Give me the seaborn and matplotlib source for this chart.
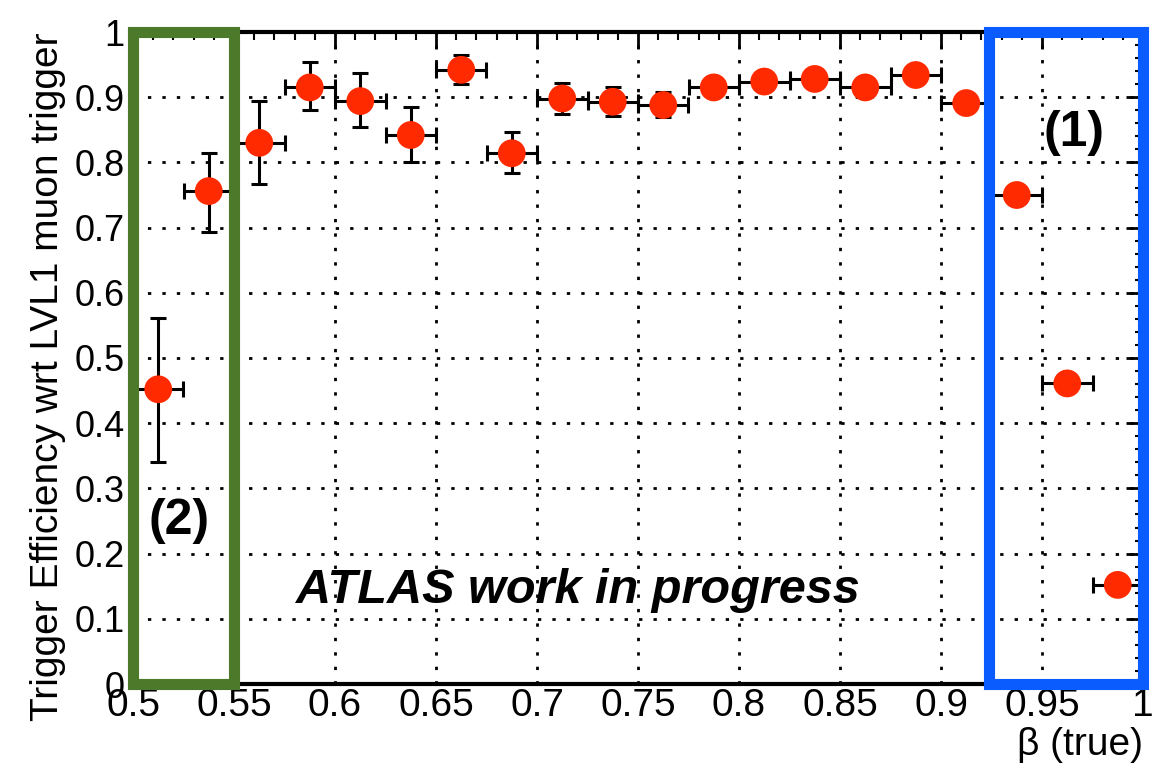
import numpy as np
import pandas as pd
import matplotlib
matplotlib.use("Agg")
import matplotlib.pyplot as plt
from matplotlib.ticker import MultipleLocator, FuncFormatter
from matplotlib.patches import Rectangle
import seaborn as sns

beta = [0.5125, 0.5375, 0.5625, 0.5875, 0.6125, 0.6375, 0.6625, 0.6875, 0.7125, 0.7375,
        0.7625, 0.7875, 0.8125, 0.8375, 0.8625, 0.8875, 0.9125, 0.9375, 0.9625, 0.9875]
eff = [0.452, 0.756, 0.830, 0.915, 0.894, 0.842, 0.942, 0.814, 0.898, 0.893,
       0.888, 0.915, 0.924, 0.928, 0.915, 0.934, 0.891, 0.750, 0.461, 0.152]
err_lo = [0.112, 0.062, 0.063, 0.035, 0.040, 0.042, 0.022, 0.031, 0.024, 0.022,
          0.019, 0.010, 0.008, 0.008, 0.008, 0.007, 0.008, 0.008, 0.008, 0.006]
err_hi = [0.110, 0.059, 0.064, 0.039, 0.043, 0.043, 0.023, 0.032, 0.024, 0.022,
          0.020, 0.010, 0.008, 0.008, 0.008, 0.007, 0.008, 0.008, 0.008, 0.006]
bin_half = 0.0125

df = pd.DataFrame({"beta": beta, "eff": eff})

sns.set_theme(style="white")
plt.rcParams['font.family'] = ['Liberation Sans', 'DejaVu Sans']
plt.rcParams['text.color'] = 'black'
plt.rcParams['axes.labelcolor'] = 'black'
plt.rcParams['xtick.color'] = 'black'
plt.rcParams['ytick.color'] = 'black'

fig = plt.figure(figsize=(11.55, 7.84), dpi=100)
ax = fig.add_axes([133/1155, 1 - 684/784, (1143-133)/1155, (684-32)/784])

ax.errorbar(df["beta"], df["eff"], yerr=[err_lo, err_hi], xerr=bin_half,
            fmt="none", ecolor="black", elinewidth=2.2, capsize=6, capthick=2.2, zorder=3)
sns.scatterplot(data=df, x="beta", y="eff", ax=ax, s=400, color="#ff2a00",
                edgecolor="none", zorder=4, legend=False)

ax.set_xlim(0.5, 1.0)
ax.set_ylim(0, 1.0)
ax.xaxis.set_major_locator(MultipleLocator(0.05))
ax.xaxis.set_minor_locator(MultipleLocator(0.01))
ax.yaxis.set_major_locator(MultipleLocator(0.1))
ax.yaxis.set_minor_locator(MultipleLocator(0.02))
fmt = FuncFormatter(lambda v, p: f"{v:.2f}".rstrip("0").rstrip(".") if v != 0 else "0")
ax.xaxis.set_major_formatter(fmt)
ax.yaxis.set_major_formatter(fmt)

ax.tick_params(which="both", direction="in", top=True, right=True, colors="black")
ax.tick_params(axis="x", labelsize=28, pad=3)
ax.tick_params(axis="y", labelsize=26, pad=6)
ax.tick_params(which="major", length=12, width=2)
ax.tick_params(which="minor", length=6, width=1.5)

ax.grid(True, which="major", color="black", linestyle=(0, (1.2, 4)), linewidth=2)
for s in ax.spines.values():
    s.set_color("black")
    s.set_linewidth(3)

ax.set_xlabel("β (true)", fontsize=28, loc="right", labelpad=2)
ax.set_ylabel("Trigger Efficiency wrt LVL1 muon trigger", fontsize=28, loc="top", labelpad=6)

ax.add_patch(Rectangle((0.5, 0.0), 0.05, 1.0, fill=False, edgecolor="#4d7a2a",
                       linewidth=8, clip_on=False, zorder=5))
ax.add_patch(Rectangle((0.924, 0.0), 0.076, 1.0, fill=False, edgecolor="#0a5cff",
                       linewidth=8, clip_on=False, zorder=5))

ax.text(0.966, 0.845, "(1)", fontsize=36, fontweight="bold", ha="center", va="center")
ax.text(0.523, 0.25, "(2)", fontsize=36, fontweight="bold", ha="center", va="center")
ax.text(0.72, 0.143, "ATLAS work in progress", fontsize=35, fontweight="bold",
        fontstyle="italic", ha="center", va="center")

fig.savefig("out.png", dpi=100)
